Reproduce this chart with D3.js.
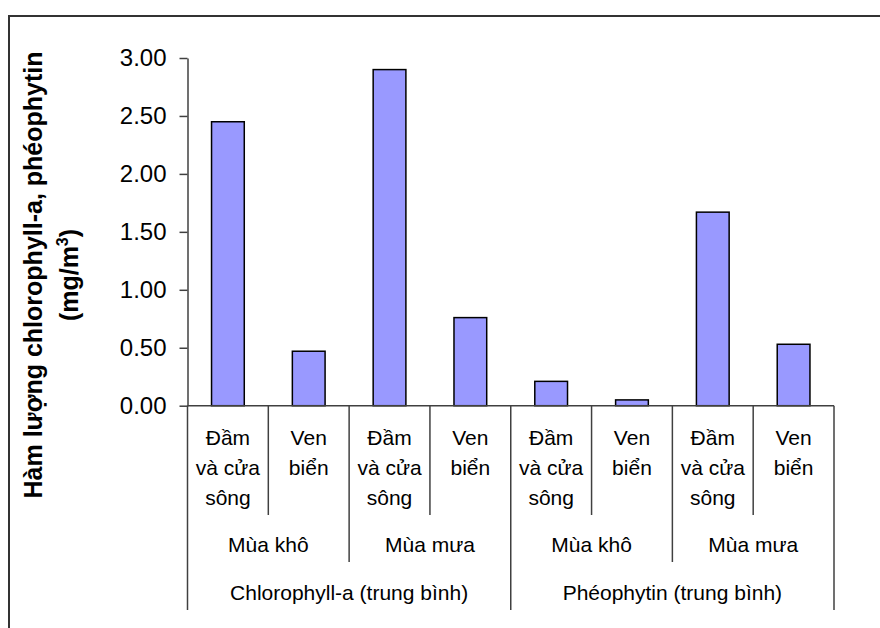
<!DOCTYPE html>
<html>
<head>
<meta charset="utf-8">
<script src="https://cdn.jsdelivr.net/npm/d3@7"></script>
<style>
  body { margin: 0; background: #fff; }
  text { font-family: "Liberation Sans", Arial, sans-serif; fill: #000; }
</style>
</head>
<body>
<svg id="chart"></svg>
<script>
/* Data */
const siteLabels = [["Đầm", "và cửa", "sông"], ["Ven", "biển"], ["Đầm", "và cửa", "sông"], ["Ven", "biển"],
                    ["Đầm", "và cửa", "sông"], ["Ven", "biển"], ["Đầm", "và cửa", "sông"], ["Ven", "biển"]];
const seasons = ["Mùa khô", "Mùa mưa", "Mùa khô", "Mùa mưa"];
const groups = ["Chlorophyll-a (trung bình)", "Phéophytin (trung bình)"];
const values = [2.45, 0.47, 2.90, 0.76, 0.21, 0.05, 1.67, 0.53];
const yTicks = [0, 0.5, 1, 1.5, 2, 2.5, 3];

/* Dimensions */
const width = 880, height = 628;
const plot = { left: 187.5, right: 834, top: 58, bottom: 405.7 };

const svg = d3.select("#chart").attr("width", width).attr("height", height);

/* Outer frame (only top and left edges visible) */
svg.append("path")
    .attr("d", `M9,${height} V16 H${width}`)
    .attr("fill", "none")
    .attr("stroke", "#333")
    .attr("stroke-width", 2);

/* Scales */
const idx = d3.range(values.length);
const x = d3.scaleBand().domain(idx).range([plot.left, plot.right]).padding(0);
const y = d3.scaleLinear().domain([0, 3]).range([plot.bottom, plot.top]);
const barW = x.bandwidth() * 0.405;

/* Bars */
svg.append("g").selectAll("rect")
    .data(values)
    .join("rect")
      .attr("x", (d, i) => x(i) + (x.bandwidth() - barW) / 2)
      .attr("y", d => y(d))
      .attr("width", barW)
      .attr("height", d => y(0) - y(d))
      .attr("fill", "#9999FF")
      .attr("stroke", "#000")
      .attr("stroke-width", 1.5);

/* Y axis */
const yAxis = svg.append("g")
    .attr("transform", `translate(${plot.left},0)`)
    .call(d3.axisLeft(y).tickValues(yTicks).tickFormat(d3.format(".2f")).tickSize(8).tickSizeOuter(0).tickPadding(13));
yAxis.select(".domain").attr("stroke", "#404040").attr("stroke-width", 1.5);
yAxis.selectAll(".tick line").attr("stroke", "#404040").attr("stroke-width", 1.5);
yAxis.selectAll(".tick text")
    .style("font-family", '"Liberation Sans", Arial, sans-serif')
    .style("font-size", "24px")
    .attr("fill", "#000");

/* X axis baseline */
svg.append("line")
    .attr("x1", plot.left).attr("x2", plot.right)
    .attr("y1", y(0)).attr("y2", y(0))
    .attr("stroke", "#404040").attr("stroke-width", 1.5);

/* Multi-level category dividers */
const boundaries = d3.range(values.length + 1);
svg.append("g").selectAll("line")
    .data(boundaries)
    .join("line")
      .attr("x1", i => i < values.length ? x(i) : plot.right)
      .attr("x2", i => i < values.length ? x(i) : plot.right)
      .attr("y1", y(0))
      .attr("y2", i => i % 4 === 0 ? 610 : (i % 2 === 0 ? 562 : 515))
      .attr("stroke", "#404040")
      .attr("stroke-width", 1.5);

/* Level 1 labels */
const lvl1 = svg.append("g").selectAll("text")
    .data(siteLabels)
    .join("text")
      .attr("x", (d, i) => x(i) + x.bandwidth() / 2)
      .attr("y", 445)
      .attr("text-anchor", "middle")
      .style("font-size", "21px");
lvl1.selectAll("tspan")
    .data(d => d)
    .join("tspan")
      .attr("x", function() { return d3.select(this.parentNode).attr("x"); })
      .attr("dy", (d, i) => i === 0 ? 0 : 30)
      .text(d => d);

/* Level 2 labels */
svg.append("g").selectAll("text")
    .data(seasons)
    .join("text")
      .attr("x", (d, i) => x(i * 2) + x.bandwidth())
      .attr("y", 552)
      .attr("text-anchor", "middle")
      .style("font-size", "21px")
      .text(d => d);

/* Level 3 labels */
svg.append("g").selectAll("text")
    .data(groups)
    .join("text")
      .attr("x", (d, i) => x(i * 4) + x.bandwidth() * 2)
      .attr("y", 600)
      .attr("text-anchor", "middle")
      .style("font-size", "21px")
      .text(d => d);

/* Y axis title */
const yTitle = svg.append("text")
    .attr("transform", "translate(42,275) rotate(-90)")
    .attr("text-anchor", "middle")
    .style("font-size", "25px")
    .style("font-weight", "bold");
yTitle.append("tspan").attr("x", 0).attr("dy", 0).text("Hàm lượng chlorophyll-a, phéophytin");
const line2 = yTitle.append("tspan").attr("x", 0).attr("dy", 36);
line2.append("tspan").text("(mg/m");
line2.append("tspan").attr("dy", -10).style("font-size", "16px").text("3");
line2.append("tspan").attr("dy", 10).text(")");
</script>
</body>
</html>
